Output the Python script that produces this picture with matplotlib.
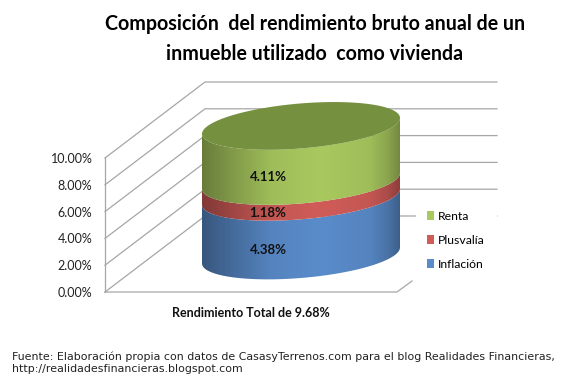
import matplotlib
matplotlib.use('Agg')
import matplotlib.pyplot as plt
import numpy as np
from matplotlib.patches import Patch, PathPatch, Polygon
from matplotlib.path import Path

# bottom to top
series = ['Inflación', 'Plusvalía', 'Renta']
values = [4.38, 1.18, 4.11]
colors = ['#5A8CCB', '#D05C58', '#A9C95F']
top_color = '#75903F'
yticks = [0, 2, 4, 6, 8, 10]

title = 'Composición  del rendimiento bruto anual de un\ninmueble utilizado  como vivienda'
xlabel = 'Rendimiento Total de 9.68%'
source = ('Fuente: Elaboración propia con datos de CasasyTerrenos.com para el blog Realidades Financieras,\n'
          'http://realidadesfinancieras.blogspot.com')

W, H = 585, 387
PX = 13.4  # pixels per 1%

fig = plt.figure(figsize=(W/100, H/100), dpi=100)
# axes = front plane of the 3D box, x in pixels from the left edge of the figure
ax = fig.add_axes([105/W, 1-292/H, 292/W, 134/H])
ax.set_xlim(105, 397)
ax.set_ylim(0, 10)
for s in ax.spines.values():
    s.set_visible(False)
ax.set_xticks([])
ax.set_yticks(yticks)
ax.set_yticklabels(['{:.2f}%'.format(v) for v in yticks], family='Lato', fontsize=9, color='#222222')
ax.tick_params(axis='y', length=0, pad=9)

# walls
grid = '#a6a6a6'
dx, dy = 100, 76/PX
for v in yticks:
    ax.plot([105, 105+dx, 497], [v, v+dy, v+dy], color=grid, lw=0.9, clip_on=False, zorder=1)
ax.plot([105, 105], [0, 10], color=grid, lw=0.9, clip_on=False, zorder=1)
ax.plot([105, 397, 412], [0, 0, 11/PX], color=grid, lw=0.9, clip_on=False, zorder=1)

# cylinder
cx, a = 301, 99
b, tilt = 22.5, 8
base = (292-255.5)/PX


def edge(level, theta):
    return cx+a*np.cos(theta), base+level+(tilt*np.cos(theta)-b*np.sin(theta))/PX


front = np.linspace(0, np.pi, 120)
pos = [0, 0.15, 0.35, 0.6, 0.85, 0.94, 1]
shade = [0.62, 0.76, 0.94, 1, 0.94, 0.82, 0.68]
ramp = np.interp(np.linspace(0, 1, 256), pos, shade)

level = 0
for name, val, col in zip(series, values, colors):
    x0, y0 = edge(level, front)
    x1, y1 = edge(level+val, front)
    verts = np.r_[np.c_[x0, y0], np.c_[x1, y1][::-1], [[x0[0], y0[0]]]]
    clip = PathPatch(Path(verts), transform=ax.transData, fc='none', ec='none')
    ax.add_patch(clip)
    rgb = np.array(matplotlib.colors.to_rgb(col))
    img = np.outer(ramp, rgb)[None, :, :]
    im = ax.imshow(img, extent=[cx-a, cx+a, -2, 17], aspect='auto', zorder=3, interpolation='bilinear')
    im.set_clip_box(fig.bbox)
    im.set_clip_path(clip)
    ax.text(268, base+level+val/2-24/PX, '{:.2f}%'.format(val), ha='center', va='center', family='Lato',
            fontweight='bold', fontsize=9.5, color='#111111', zorder=5, clip_on=False)
    level += val

ring = np.linspace(0, 2*np.pi, 240)
xt, yt = edge(level, ring)
ax.add_patch(Polygon(np.c_[xt, yt], fc=top_color, ec='none', zorder=4, clip_on=False))
ax.set_xlim(105, 397)
ax.set_ylim(0, 10)

handles = [Patch(fc=c, ec='none', label=n) for n, c in zip(series, colors)][::-1]
leg = ax.legend(handles=handles, loc='upper left', bbox_to_anchor=(410/W, 1-194/H), bbox_transform=fig.transFigure,
                frameon=True, framealpha=1, edgecolor='white', facecolor='white', fancybox=False, borderpad=0.9,
                labelspacing=1.05, handlelength=0.57, handleheight=0.75, handletextpad=0.35,
                prop={'family': 'Lato', 'size': 8.8})
leg.set_zorder(2)

fig.text(315/W, 1-39/H, title, ha='center', va='center', family='Lato', fontweight='bold', fontsize=14.1,
         linespacing=1.6, color='black')
fig.text(251/W, 1-313/H, xlabel, ha='center', va='center', family='Lato', fontweight='bold', fontsize=9,
         color='#111111')
fig.text(12/W, 1-363/H, source, ha='left', va='center', family='DejaVu Sans', fontsize=7.9, linespacing=1.3,
         color='#222222')

fig.savefig('out.png', dpi=100, facecolor='white')
